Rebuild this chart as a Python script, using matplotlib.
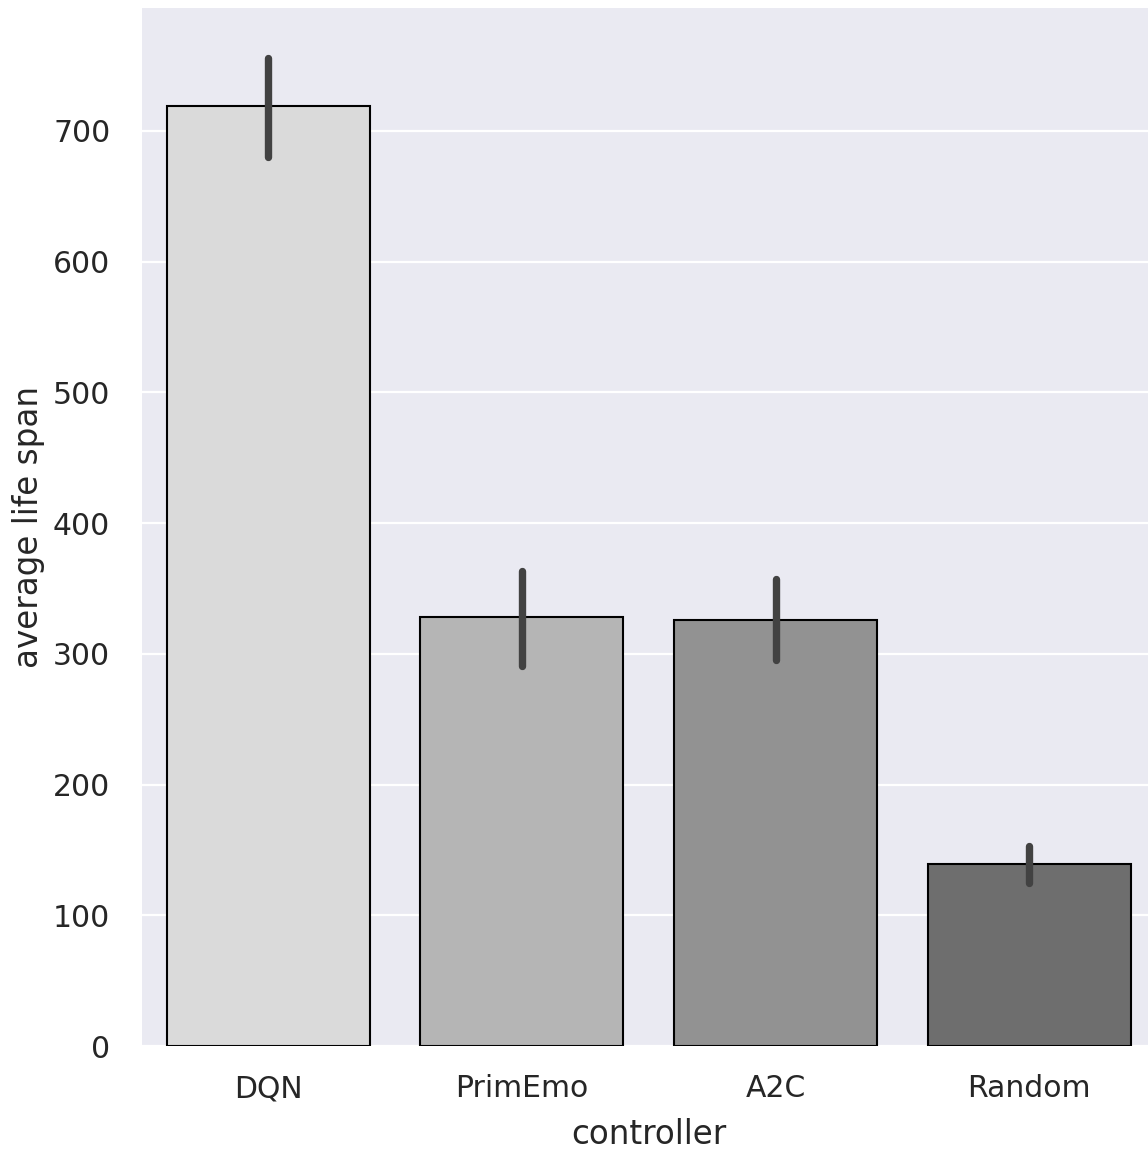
import matplotlib
matplotlib.use("Agg")
import matplotlib.pyplot as plt
import seaborn as sns

# Mean life span per controller with 95% CI bounds
controllers = ["DQN", "PrimEmo", "A2C", "Random"]
mean_span = [719, 328, 326, 139]
ci_low = [680, 291, 295, 125]
ci_high = [756, 363, 357, 153]
bar_colors = ["#dadada", "#b5b5b5", "#929292", "#6e6e6e"]
yticks = [0, 100, 200, 300, 400, 500, 600, 700]

sns.set_theme(style="darkgrid")
plt.rcParams["font.family"] = ["DejaVu Sans"]

W, H = 1148, 1149
fig = plt.figure(figsize=(W / 100, H / 100), dpi=100)
left_px, right_px, top_px, bottom_px = 141.5, 141.5 + 1014.5, 8, 1046
ax = fig.add_axes([left_px / W, (H - bottom_px) / H,
                   (right_px - left_px) / W, (bottom_px - top_px) / H])
ax.set_axisbelow(True)
ax.grid(True, axis="y", color="white", linewidth=1.6)
ax.grid(False, axis="x")

x = list(range(len(controllers)))
ax.bar(x, mean_span, width=0.8, color=bar_colors, edgecolor="black",
       linewidth=1.5, zorder=2)
for xi, lo, hi in zip(x, ci_low, ci_high):
    ax.plot([xi, xi], [lo, hi], color="#424242", linewidth=5.3,
            solid_capstyle="round", zorder=3)

ax.set_xlim(-0.5, 3.5)
ax.set_ylim(0, 794)
ax.set_xticks(x)
ax.set_xticklabels(controllers)
ax.set_yticks(yticks)
ax.tick_params(axis="x", length=0, pad=20.5, labelsize=21.5, labelcolor="#262626")
ax.tick_params(axis="y", length=0, pad=22.5, labelsize=21.5, labelcolor="#262626")
ax.set_xlabel("controller", fontsize=23.5, color="#262626", labelpad=10.5)
ax.set_ylabel("average life span", fontsize=23.5, color="#262626", labelpad=6)
for s in ax.spines.values():
    s.set_visible(False)

fig.savefig("out.png", dpi=100)
